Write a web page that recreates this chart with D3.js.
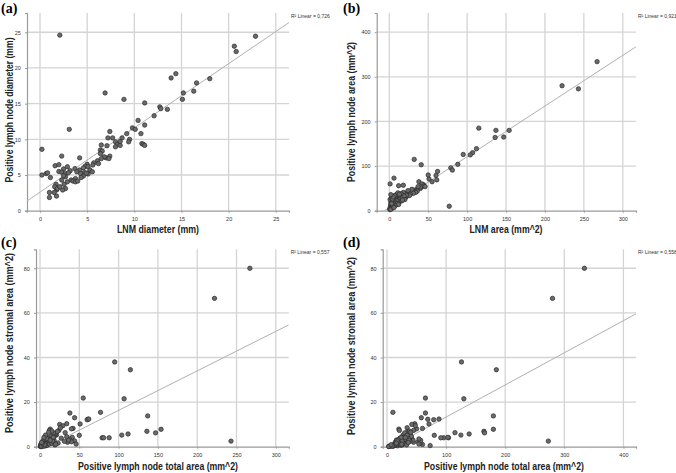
<!DOCTYPE html>
<html><head><meta charset="utf-8">
<script src="https://cdn.jsdelivr.net/npm/d3@7"></script>
<style>body{margin:0;background:#fff}svg{display:block}</style>
</head><body>
<svg id="chart" width="676" height="473"></svg>
<script>
// Panel (a): diameters
const lnmDiameter = [2.1,22.85,20.6,20.8,18.0,16.6,14.4,13.9,6.9,8.9,11.1,15.2,15.1,16.3,12.7,12.8,13.5,12.1,10.4,9.8,10.1,11.1,3.1,7.4,7.2,7.7,8.7,9.2,10.7,9.5,9.4,10.8,10.95,11.1,0.2,8.0,8.2,8.5,8.0,8.5,6.5,7.1,6.4,6.6,2.3,4.2,7.4,7.0,7.3,6.8,6.5,6.1,5.7,6.2,5.6,1.6,2.0,2.9,5.0,4.8,5.1,4.6,3.7,4.2,3.9,3.2,2.5,2.0,2.3,2.7,3.0,5.3,5.55,5.0,4.7,4.3,4.6,5.1,4.35,3.75,3.3,2.9,2.7,2.5,2.3,2.55,2.7,2.4,1.7,1.55,1.75,1.5,1.75,1.0,1.0,1.1,0.65,0.8,0.2,1.85,2.1,3.5,3.75,4.0,4.9,6.4];
const posDiameter = [24.6,24.45,23.05,22.3,18.5,17.9,19.2,18.6,16.5,15.6,15.1,16.5,15.6,16.75,14.55,14.3,14.2,13.3,12.65,11.6,11.4,12.0,11.4,11.1,10.2,10.2,10.2,10.8,10.8,10.0,9.65,9.4,9.3,9.15,8.6,9.65,9.3,9.15,8.95,9.7,9.2,9.1,8.5,8.35,7.65,7.4,7.65,7.4,7.3,7.55,7.3,7.0,6.7,6.6,6.4,6.3,6.45,6.15,6.5,6.25,6.15,6.0,5.9,5.7,5.45,5.6,5.85,5.5,5.4,5.2,5.3,5.7,5.45,5.25,5.35,5.2,4.85,5.15,4.65,4.5,4.3,4.05,4.75,4.9,4.3,3.7,3.1,2.9,3.7,3.35,2.9,2.55,2.05,2.55,1.85,4.65,5.2,5.3,5.0,3.1,3.35,4.15,4.05,4.15,5.25,8.0];
// Panels (b)-(d): areas (mm^2)
const lnmArea = [267,222,243,115,95,107,137,154,136,112,104,147,77,55,38,44,61,60,62,51,34,25,79,81,88,50,42,40,41,44,40,6,35,32,1,12,18,37,46,29,24,13,12,21,19,36,34,31,27,23,20,18,26,22,
  0.5,1,1.5,2,2,3,1,2.5,3,4,4,5,5,6,6,7,7,8,8,9,9,10,10,11,11,12,13,14,14,15,16,16,17,3,2,4,5,6,3,8,19,20,15,17,9,7,11,13,5,2];
const posArea = [334,280,273,185,126,130,180,180,164,139,125,165,10,65,65,58,69,79,88,71,47,42,96,91,104,80,60,50,103,55,53,73,45,115,60,56,57,54,54,48,45,20,21,30,27,44,41,39,37,33,39,41,34,35,
  3,6,10,14,18,22,25,28,8,12,17,20,24,14,28,11,19,23,16,27,13,21,30,18,25,14,29,24,32,27,22,35,30,5,3,26,9,7,16,32,33,25,38,24,36,34,40,37,31,36];
const stromalArea = [80,66.5,2.5,34.5,38,21.5,13.8,7.8,6.9,5.7,5.2,6.2,15.4,21.8,15.1,13.0,12.3,12.1,12.4,10.2,10.3,10.0,4.0,4.0,4.0,5.1,8.2,8.0,4.2,2.6,2.2,0.5,2.0,6.3,1.0,1.5,2.8,3.5,1.2,9.4,7.3,7.9,7.3,5.3,5.1,3.0,4.5,2.4,3.8,1.6,6.0,4.6,8.5,6.8,
  0.1,0.3,0.2,0.6,0.4,1.0,0.8,1.4,0.5,1.1,0.9,1.8,0.7,2.0,1.3,0.4,2.5,1.0,3.0,2.2,0.6,3.5,1.7,2.8,4.0,1.2,3.2,2.0,4.8,1.5,3.8,2.5,6.2,0.2,0.1,2.8,0.3,0.9,1.6,3.3,0.8,1.1,7.0,4.2,3.6,5.2,6.5,2.9,4.1,1.9];

// Tick labels
const ticksA = [0,5,10,15,20,25];
const ticksBx = [0,50,100,150,200,250,300];
const ticksBy = [0,100,200,300,400];
const ticksCx = [0,50,100,150,200,250,300];
const ticksDx = [0,100,200,300,400];
const ticksStromal = [0,20,40,60,80];

// Fit lines (intercept, slope) and R²
const fitIntercept = [2.6, 7.3, -1.4, -1.1];
const fitSlope = [0.90, 1.136, 0.177, 0.144];
const r2Labels = ["R\u00b2 Linear = 0,726","R\u00b2 Linear = 0,921","R\u00b2 Linear = 0,557","R\u00b2 Linear = 0,558"];
const panelLetters = ["(a)","(b)","(c)","(d)"];
const xTitles = ["LNM diameter (mm)","LNM area (mm^2)","Positive lymph node total area (mm^2)","Positive lymph node total area (mm^2)"];
const yTitles = ["Positive lymph node diameter (mm)","Positive lymph node area (mm^2)","Positive lymph node stromal area (mm^2)","Positive lymph node stromal area (mm^2)"];

const svg = d3.select("#chart");
const FONT = "'Liberation Sans', Arial, sans-serif";
const TFONT = "'Liberation Sans Narrow','Arial Narrow','Liberation Sans',Arial,sans-serif";

const panels = [
  {box:[27,289,13,210.7], xd:[-1.38,26.4], yd:[0,27.7], xt:ticksA, yt:ticksA, xs:lnmDiameter, ys:posDiameter,
   letter:[1,13], yT:[9.5,110,145], xT:[158,233,82]},
  {box:[376.7,636,13,210.7], xd:[-16.2,317], yd:[0,443], xt:ticksBx, yt:ticksBy, xs:lnmArea, ys:posArea,
   letter:[343,13], yT:[351,112,140], xT:[506,233,73]},
  {box:[36,288.7,249.3,446.7], xd:[-5.1,316.4], yd:[0,88.5], xt:ticksCx, yt:ticksStromal, xs:lnmArea, ys:stromalArea,
   letter:[1,247], yT:[9.5,343,180], xT:[158,470,160]},
  {box:[382.7,636,249.3,446.7], xd:[-7.3,421.3], yd:[0,88.5], xt:ticksDx, yt:ticksStromal, xs:posArea, ys:stromalArea,
   letter:[343,247], yT:[351,346,178], xT:[504,470,160]}
];

panels.forEach((p,i)=>{
  const [L,R,T,B] = p.box;
  const x = d3.scaleLinear().domain(p.xd).range([L,R]);
  const y = d3.scaleLinear().domain(p.yd).range([B,T]);
  const g = svg.append("g");

  // gridlines
  g.selectAll(".vg").data(p.xt).join("line")
    .attr("x1",d=>x(d)).attr("x2",d=>x(d)).attr("y1",T).attr("y2",B)
    .attr("stroke","#d4d4d4").attr("stroke-width",1.3);
  g.selectAll(".hg").data(p.yt.filter(d=>d!==0)).join("line")
    .attr("x1",L).attr("x2",R).attr("y1",d=>y(d)).attr("y2",d=>y(d))
    .attr("stroke","#d4d4d4").attr("stroke-width",1.3);

  // axes
  const xAxis = d3.axisBottom(x).tickValues(p.xt).tickSize(2).tickFormat(d3.format("d"));
  const yAxis = d3.axisLeft(y).tickValues(p.yt).tickSize(2).tickFormat(d3.format("d"));
  const gx = g.append("g").attr("transform",`translate(0,${B})`).call(xAxis);
  const gy = g.append("g").attr("transform",`translate(${L},0)`).call(yAxis);
  [gx,gy].forEach(a=>{
    a.select(".domain").attr("stroke","#9a9a9a").attr("stroke-width",1.2);
    a.selectAll(".tick line").attr("stroke","#9a9a9a");
    a.selectAll("text").attr("font-family",FONT).attr("font-size",5.5).attr("fill","#333");
  });
  gx.selectAll("text").attr("dy","0.9em");
  gy.selectAll("text").attr("dx","-0.2em");

  // fit line, clipped
  const cid = "clip"+i;
  svg.append("clipPath").attr("id",cid).append("rect")
    .attr("x",L).attr("y",T).attr("width",R-L).attr("height",B-T);
  const fx = p.xd;
  g.append("line").attr("clip-path",`url(#${cid})`)
    .attr("x1",x(fx[0])).attr("y1",y(fitIntercept[i]+fitSlope[i]*fx[0]))
    .attr("x2",x(fx[1])).attr("y2",y(fitIntercept[i]+fitSlope[i]*fx[1]))
    .attr("stroke","#b0b0b0").attr("stroke-width",1);

  // points
  g.selectAll("circle").data(p.xs.map((v,k)=>[v,p.ys[k]])).join("circle")
    .attr("cx",d=>x(d[0])).attr("cy",d=>y(d[1])).attr("r",2.2)
    .attr("fill","#6a6a6a").attr("stroke","#2a2a2a").attr("stroke-width",0.7);

  // R² label
  g.append("text").attr("x",R+2).attr("y",T+4.5).text(r2Labels[i])
    .attr("font-family",FONT).attr("font-size",5).attr("fill","#333");

  // axis titles
  g.append("text").attr("x",p.xT[0]).attr("y",p.xT[1]).attr("text-anchor","middle")
    .attr("font-family",TFONT).attr("font-weight","bold").attr("font-size",11.5).attr("fill","#222")
    .attr("textLength",p.xT[2]).attr("lengthAdjust","spacingAndGlyphs")
    .text(xTitles[i]);
  g.append("text").attr("transform",`translate(${p.yT[0]},${p.yT[1]}) rotate(-90)`)
    .attr("text-anchor","middle").attr("dy","0.35em")
    .attr("font-family",TFONT).attr("font-weight","bold").attr("font-size",10.5).attr("fill","#222")
    .attr("textLength",p.yT[2]).attr("lengthAdjust","spacingAndGlyphs")
    .text(yTitles[i]);

  // panel letter
  g.append("text").attr("x",p.letter[0]).attr("y",p.letter[1]).text(panelLetters[i])
    .attr("font-family","'Liberation Serif','Times New Roman',serif").attr("font-weight","bold")
    .attr("font-size",14).attr("fill","#000");
});
</script>
</body></html>
